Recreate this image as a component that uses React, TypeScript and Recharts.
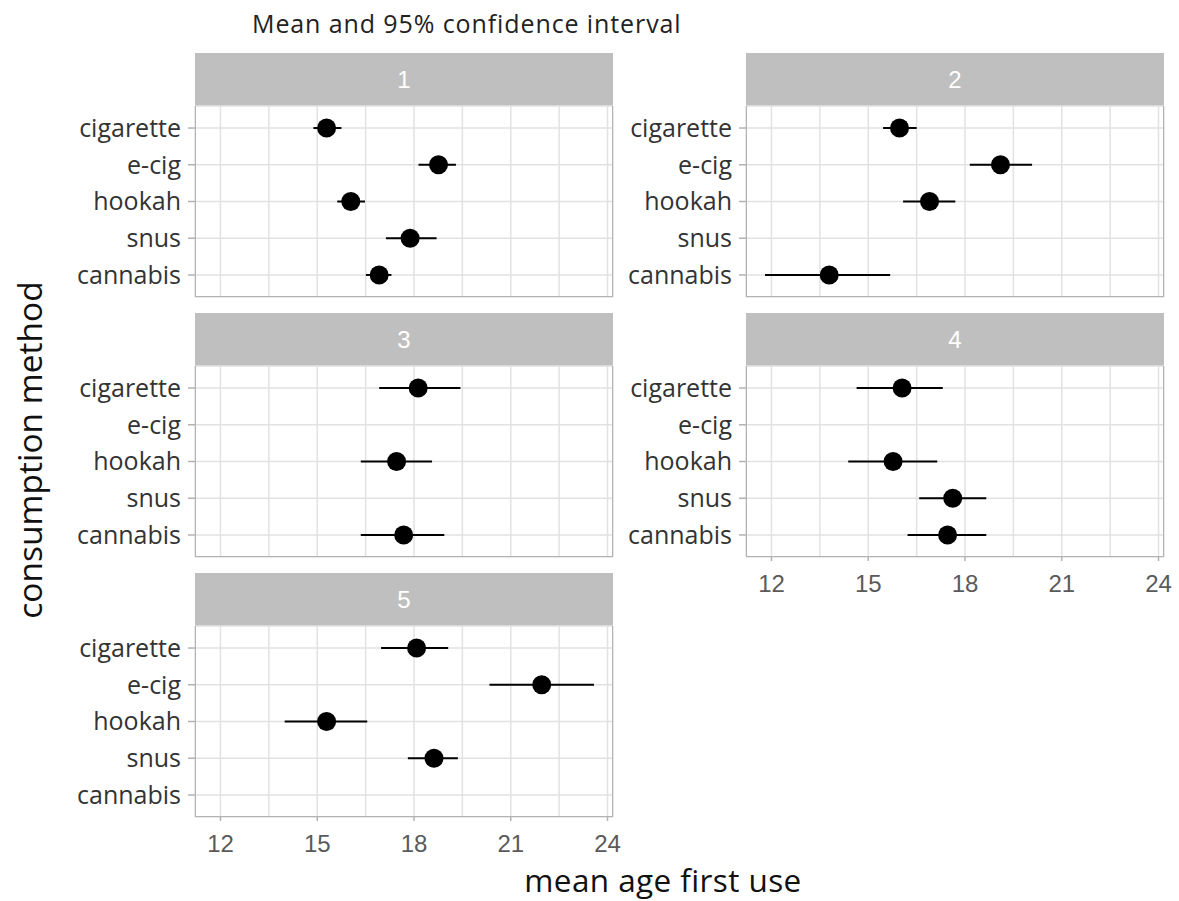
import React from 'react';
import { ScatterChart, Scatter, XAxis, YAxis, CartesianGrid, ErrorBar } from 'recharts';

const categories = ['cigarette', 'e-cig', 'hookah', 'snus', 'cannabis'];
const xTicks = [12, 13.5, 15, 16.5, 18, 19.5, 21, 22.5, 24];

// mean, lower and upper 95% CI per panel (null = no data)
const p1Mean = [15.29, 18.76, 16.04, 17.88, 16.92];
const p1Lo = [14.88, 18.14, 15.62, 17.13, 16.51];
const p1Hi = [15.75, 19.3, 16.48, 18.7, 17.3];

const p2Mean = [15.97, 19.1, 16.9, null, 13.79];
const p2Lo = [15.46, 18.15, 16.08, null, 11.8];
const p2Hi = [16.5, 20.08, 17.7, null, 15.68];

const p3Mean = [18.13, null, 17.46, null, 17.68];
const p3Lo = [16.92, null, 16.35, null, 16.35];
const p3Hi = [19.44, null, 18.56, null, 18.94];

const p4Mean = [16.05, null, 15.77, 17.62, 17.46];
const p4Lo = [14.64, null, 14.38, 16.58, 16.22];
const p4Hi = [17.31, null, 17.14, 18.66, 18.66];

const p5Mean = [18.08, 21.96, 15.29, 18.62, null];
const p5Lo = [16.98, 20.34, 13.99, 17.81, null];
const p5Hi = [19.06, 23.58, 16.55, 19.36, null];

const FONT = '"Open Sans", sans-serif';
const NUM_FONT = '"Liberation Sans", Arial, sans-serif';

const buildRows = (mean: (number | null)[], lo: (number | null)[], hi: (number | null)[]) =>
  categories
    .map((c, i) => ({ method: c, pos: i + 1, mean: mean[i], lo: lo[i], hi: hi[i] }))
    .filter((r) => r.mean !== null)
    .map((r) => ({ ...r, err: [(r.mean as number) - (r.lo as number), (r.hi as number) - (r.mean as number)] }));

const panels = [
  { label: '1', data: buildRows(p1Mean, p1Lo, p1Hi), col: 0, row: 0, showX: false },
  { label: '2', data: buildRows(p2Mean, p2Lo, p2Hi), col: 1, row: 0, showX: false },
  { label: '3', data: buildRows(p3Mean, p3Lo, p3Hi), col: 0, row: 1, showX: false },
  { label: '4', data: buildRows(p4Mean, p4Lo, p4Hi), col: 1, row: 1, showX: true },
  { label: '5', data: buildRows(p5Mean, p5Lo, p5Hi), col: 0, row: 2, showX: true },
];

const COL_LEFT = [195, 746];
const PLOT_W = 418;
const ROW_TOP = [53, 313, 573];
const STRIP_H = 53;
const PLOT_H = 191;
const Y_AXIS_W = 140;
const M_TOP = 2;
const M_RIGHT = 24;

const Dot = (props: any) => <circle cx={props.cx} cy={props.cy} r={9.5} fill="#000" />;

const XTick = ({ x, payload, show }: any) => {
  if (!show || payload.value % 3 !== 0) return <g />;
  const base = M_TOP + PLOT_H;
  return (
    <g>
      <line x1={x} x2={x} y1={base} y2={base + 4} stroke="#b3b3b3" strokeWidth={1.5} />
      <text x={x} y={base + 35} textAnchor="middle" fill="#5a5a5a" fontSize={24} fontFamily={NUM_FONT}>
        {payload.value}
      </text>
    </g>
  );
};

const Panel = ({ panel }: { panel: (typeof panels)[number] }) => {
  const plotLeft = COL_LEFT[panel.col];
  const stripTop = ROW_TOP[panel.row];
  const plotTop = stripTop + STRIP_H;
  const xH = panel.showX ? 44 : 0;
  return (
    <>
      <div
        style={{
          position: 'absolute',
          left: plotLeft,
          top: stripTop,
          width: PLOT_W,
          height: STRIP_H,
          background: '#bfbfbf',
          color: '#fff',
          fontFamily: NUM_FONT,
          fontSize: 24,
          display: 'flex',
          alignItems: 'center',
          justifyContent: 'center',
        }}
      >
        {panel.label}
      </div>
      <div style={{ position: 'absolute', left: plotLeft - Y_AXIS_W, top: plotTop - M_TOP }}>
        <ScatterChart
          width={Y_AXIS_W + PLOT_W + M_RIGHT}
          height={PLOT_H + M_TOP + 2 + xH}
          margin={{ top: M_TOP, right: M_RIGHT, bottom: 2, left: 0 }}
        >
          <CartesianGrid stroke="#e2e2e2" strokeWidth={1.5} />
          <XAxis
            type="number"
            dataKey="mean"
            domain={[11.21, 24.17]}
            ticks={xTicks}
            allowDataOverflow
            axisLine={false}
            tickLine={false}
            height={xH}
            interval={0}
            tick={<XTick show={panel.showX} />}
          />
          <YAxis
            type="number"
            dataKey="pos"
            domain={[0.4, 5.6]}
            ticks={[1, 2, 3, 4, 5]}
            reversed
            interval={0}
            width={Y_AXIS_W}
            axisLine={false}
            tickLine={{ stroke: '#b3b3b3', strokeWidth: 1.5 }}
            tickSize={7}
            tickMargin={7}
            tickFormatter={(v: number) => categories[v - 1]}
            tick={{ fill: '#333', fontSize: 25, fontFamily: FONT }}
          />
          <Scatter data={panel.data} shape={Dot} isAnimationActive={false}>
            <ErrorBar dataKey="err" direction="x" width={0} stroke="#000" strokeWidth={2} />
          </Scatter>
        </ScatterChart>
      </div>
      <div
        style={{
          position: 'absolute',
          left: plotLeft,
          top: plotTop,
          width: PLOT_W,
          height: PLOT_H,
          boxSizing: 'border-box',
          border: '1.5px solid #b3b3b3',
          borderTop: 'none',
          pointerEvents: 'none',
        }}
      />
    </>
  );
};

export default function App() {
  return (
    <div
      style={{
        position: 'absolute',
        left: 0,
        top: 0,
        width: 1179,
        height: 901,
        background: '#fff',
        overflow: 'hidden',
      }}
    >
      <div
        style={{
          position: 'absolute',
          left: 252,
          top: 11,
          fontFamily: FONT,
          fontSize: 25,
          lineHeight: 1,
          letterSpacing: 0.9,
          color: '#222',
          whiteSpace: 'nowrap',
        }}
      >
        Mean and 95% confidence interval
      </div>
      {panels.map((p) => (
        <Panel key={p.label} panel={p} />
      ))}
      <div
        style={{
          position: 'absolute',
          left: 663,
          top: 880,
          transform: 'translate(-50%, -50%)',
          fontFamily: FONT,
          fontSize: 31.5,
          lineHeight: 1,
          letterSpacing: 0.4,
          color: '#111',
          whiteSpace: 'nowrap',
        }}
      >
        mean age first use
      </div>
      <div
        style={{
          position: 'absolute',
          left: 30,
          top: 450,
          transform: 'translate(-50%, -50%) rotate(-90deg)',
          fontFamily: FONT,
          fontSize: 33.5,
          lineHeight: 1,
          color: '#111',
          whiteSpace: 'nowrap',
        }}
      >
        consumption method
      </div>
    </div>
  );
}
